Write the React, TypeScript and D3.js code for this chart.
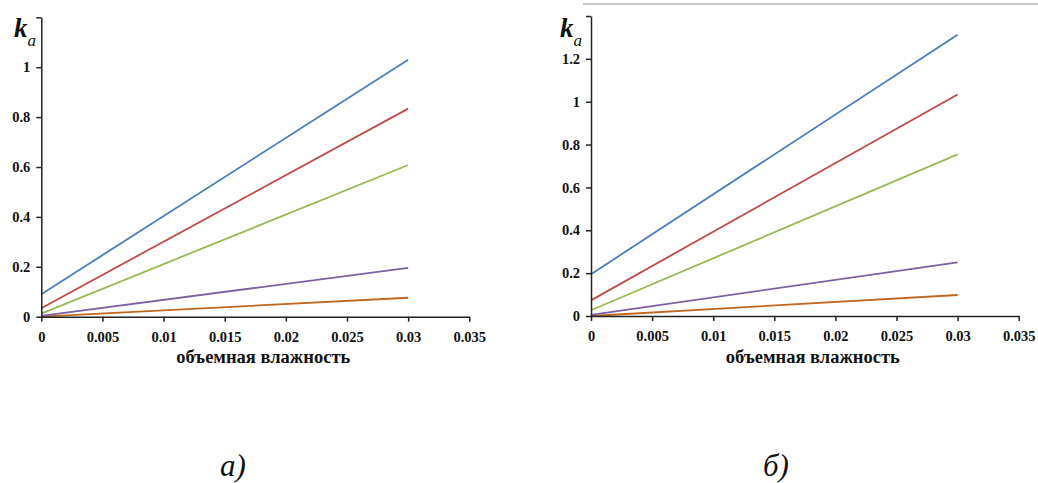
import { useEffect, useRef } from 'react';
import * as d3 from 'd3';

// moisture values (x) — both panels use the same two end points
const moisture = [0, 0.03];

// panel а) — k_a at x = 0 and x = 0.03
const seriesA1 = [0.09, 1.03];
const seriesA2 = [0.034, 0.834];
const seriesA3 = [0.012, 0.608];
const seriesA4 = [0.003, 0.196];
const seriesA5 = [0.0, 0.076];

// panel б)
const seriesB1 = [0.195, 1.313];
const seriesB2 = [0.073, 1.034];
const seriesB3 = [0.027, 0.754];
const seriesB4 = [0.005, 0.25];
const seriesB5 = [0.0, 0.098];

const xTicks = [0, 0.005, 0.01, 0.015, 0.02, 0.025, 0.03, 0.035];
const xTickLabels = ['0', '0.005', '0.01', '0.015', '0.02', '0.025', '0.03', '0.035'];
const yTicksA = [0, 0.2, 0.4, 0.6, 0.8, 1, 1.2];
const yTicksB = [0, 0.2, 0.4, 0.6, 0.8, 1, 1.2, 1.4];

const colors = ['#4A7EBB', '#BE4B48', '#98B954', '#7D60A0', '#C0661F'];
const xTitle = 'объемная влажность';

const W = 1038;
const H = 483;
const serif = 'Liberation Serif';

const App = () => {
    const svgRef = useRef<SVGSVGElement | null>(null);

    useEffect(() => {
        const svg = d3.select(svgRef.current);
        svg.selectAll('*').remove();

        const panels = [
            { left: 41.3, right: 469.3, bottom: 316.7, top: 17.3, yMax: 1.2, yTicks: yTicksA,
              series: [seriesA1, seriesA2, seriesA3, seriesA4, seriesA5], kx: 14, caption: 'а)', capX: 220 },
            { left: 591, right: 1018.7, bottom: 316, top: 16, yMax: 1.4, yTicks: yTicksB,
              series: [seriesB1, seriesB2, seriesB3, seriesB4, seriesB5], kx: 560, caption: 'б)', capX: 763 },
        ];

        // thin grey rule above the second panel
        svg.append('line')
            .attr('x1', 583).attr('x2', W)
            .attr('y1', 4).attr('y2', 4)
            .attr('stroke', '#c8c8c8').attr('stroke-width', 2);

        panels.forEach(p => {
            const x = d3.scaleLinear().domain([0, 0.035]).range([p.left, p.right]);
            const y = d3.scaleLinear().domain([0, p.yMax]).range([p.bottom, p.top]);
            const g = svg.append('g');

            const line = d3.line<number>()
                .x((_, i) => x(moisture[i]))
                .y(d => y(d));

            p.series.slice().reverse().forEach((s, i) => {
                g.append('path')
                    .datum(s)
                    .attr('d', line)
                    .attr('fill', 'none')
                    .attr('stroke', colors[colors.length - 1 - i])
                    .attr('stroke-width', 1.8);
            });

            const yAxis = g.append('g')
                .attr('transform', 'translate(' + p.left + ',0)')
                .call(d3.axisLeft(y).tickValues(p.yTicks)
                    .tickFormat(d => (+d === p.yMax ? '' : String(d)))
                    .tickSize(5).tickSizeOuter(0).tickPadding(6));
            const xAxis = g.append('g')
                .attr('transform', 'translate(0,' + p.bottom + ')')
                .call(d3.axisBottom(x).tickValues(xTicks)
                    .tickFormat((_, i) => xTickLabels[i])
                    .tickSize(5).tickSizeOuter(0).tickPadding(10));

            [yAxis, xAxis].forEach(a => {
                a.attr('font-family', serif).attr('font-size', 14.5).attr('font-weight', 'bold');
                a.select('.domain').attr('stroke', '#222').attr('stroke-width', 1.5);
                a.selectAll('.tick line').attr('stroke', '#222').attr('stroke-width', 1.5);
                a.selectAll('.tick text').attr('fill', '#111');
            });

            g.append('text')
                .text(xTitle)
                .attr('x', (p.left + p.right) / 2 + 8)
                .attr('y', 363)
                .attr('text-anchor', 'middle')
                .attr('font-family', serif)
                .attr('font-weight', 'bold')
                .attr('font-size', 18.5)
                .attr('fill', '#111');

            const k = g.append('text')
                .attr('x', p.kx)
                .attr('y', 37)
                .attr('font-family', serif)
                .attr('font-style', 'italic')
                .attr('font-weight', 'bold')
                .attr('fill', '#111');
            k.append('tspan').attr('font-size', 27).text('k');
            k.append('tspan').attr('font-size', 17).attr('font-weight', 'normal').attr('dy', 9).text('a');

            svg.append('text')
                .text(p.caption)
                .attr('x', p.capX)
                .attr('y', 476)
                .attr('font-family', serif)
                .attr('font-style', 'italic')
                .attr('font-size', 31)
                .attr('fill', '#111');
        });
    }, []);

    return (
        <div style={{ position: 'fixed', left: 0, top: 0, width: W, height: H, overflow: 'hidden' }}>
            <svg ref={svgRef} width={W} height={H} style={{ display: 'block', background: '#fff' }}></svg>
        </div>
    );
};

export default App;
